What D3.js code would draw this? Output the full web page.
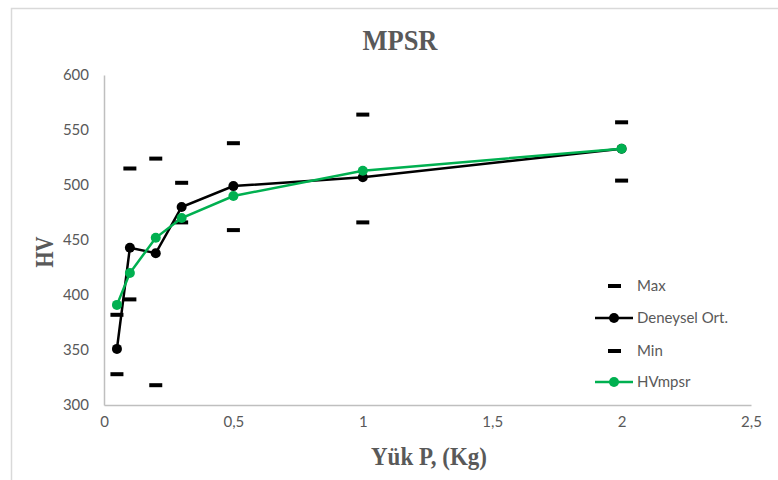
<!DOCTYPE html>
<html><head><meta charset="utf-8">
<script src="https://cdn.jsdelivr.net/npm/d3@7"></script>
<style>body{margin:0;background:#fff}svg{display:block}</style>
</head><body><svg id="c" width="778" height="480"></svg>
<script>
const loads = [0.05, 0.1, 0.2, 0.3, 0.5, 1, 2];
const maxVals = [382, 515, 524, 502, 538, 564, 557];
const meanVals = [351, 443, 438, 480, 499, 507, 533];
const minVals = [328, 396, 318, 466, 459, 466, 504];
const hvMpsr = [391, 420, 452, 470, 490, 513, 533];
const xTicks = [0, 0.5, 1, 1.5, 2, 2.5];
const yTicks = [300, 350, 400, 450, 500, 550, 600];
const legendItems = ["Max", "Deneysel Ort.", "Min", "HVmpsr"];

const svg = d3.select("#c");
const x = d3.scaleLinear().domain([0, 2.5]).range([104, 751]);
const y = d3.scaleLinear().domain([300, 600]).range([405, 75]);
const fmt = d => String(d).replace(".", ",");
const sans = "Lato, 'Open Sans', sans-serif";
const serif = "'Liberation Serif', 'Times New Roman', serif";

svg.append("rect").attr("x", 11.5).attr("y", 8.5).attr("width", 800).attr("height", 500)
  .attr("fill", "#fff").attr("stroke", "#d9d9d9").attr("stroke-width", 1.5);

const xa = svg.append("g").attr("transform", "translate(0,405)")
  .call(d3.axisBottom(x).tickValues(xTicks).tickFormat(fmt).tickSize(0).tickPadding(11));
const ya = svg.append("g").attr("transform", "translate(104,0)")
  .call(d3.axisLeft(y).tickValues(yTicks).tickSize(0).tickPadding(15));
[xa, ya].forEach(a => {
  a.select(".domain").attr("stroke", "#bfbfbf").attr("stroke-width", 1.5);
  a.selectAll("text").attr("fill", "#595959").style("font-family", sans).style("font-size", "15px");
});

const pts = arr => loads.map((l, i) => [l, arr[i]]);
const line = d3.line().x(d => x(d[0])).y(d => y(d[1]));

function series(arr, color) {
  svg.append("path").datum(pts(arr)).attr("d", line)
    .attr("fill", "none").attr("stroke", color).attr("stroke-width", 2.5);
  svg.append("g").selectAll("circle").data(pts(arr)).join("circle")
    .attr("cx", d => x(d[0])).attr("cy", d => y(d[1])).attr("r", 5).attr("fill", color);
}
function dashes(arr) {
  svg.append("g").selectAll("rect").data(pts(arr)).join("rect")
    .attr("x", d => x(d[0]) - 6.5).attr("y", d => y(d[1]) - 2)
    .attr("width", 13).attr("height", 4).attr("fill", "#000");
}
dashes(maxVals);
series(meanVals, "#000000");
dashes(minVals);
series(hvMpsr, "#00b050");

svg.append("text").attr("x", 400).attr("y", 50).attr("text-anchor", "middle")
  .attr("textLength", 75).attr("lengthAdjust", "spacingAndGlyphs")
  .attr("fill", "#595959").style("font-family", serif).style("font-weight", "bold").style("font-size", "29px")
  .text("MPSR");
svg.append("text").attr("x", 429).attr("y", 465).attr("text-anchor", "middle")
  .attr("textLength", 116).attr("lengthAdjust", "spacingAndGlyphs")
  .attr("fill", "#595959").style("font-family", serif).style("font-weight", "bold").style("font-size", "25px")
  .text("Yük P, (Kg)");
svg.append("text").attr("transform", "translate(53,252) rotate(-90)").attr("text-anchor", "middle")
  .attr("textLength", 31).attr("lengthAdjust", "spacingAndGlyphs")
  .attr("fill", "#595959").style("font-family", serif).style("font-weight", "bold").style("font-size", "25px")
  .text("HV");

const legY = [286, 318, 351, 382];
const legTypes = ["dash", "black", "dash", "green"];
const leg = svg.append("g");
legendItems.forEach((name, i) => {
  const yy = legY[i];
  if (legTypes[i] === "dash") {
    leg.append("rect").attr("x", 608).attr("y", yy - 2).attr("width", 13).attr("height", 4).attr("fill", "#000");
  } else {
    const c = legTypes[i] === "black" ? "#000000" : "#00b050";
    leg.append("line").attr("x1", 595).attr("x2", 633).attr("y1", yy).attr("y2", yy)
      .attr("stroke", c).attr("stroke-width", 2.5);
    leg.append("circle").attr("cx", 614).attr("cy", yy).attr("r", 5).attr("fill", c);
  }
  leg.append("text").attr("x", 637).attr("y", yy).attr("dy", "0.35em")
    .attr("fill", "#595959").style("font-family", sans).style("font-size", "15px").text(name);
});
</script></body></html>
